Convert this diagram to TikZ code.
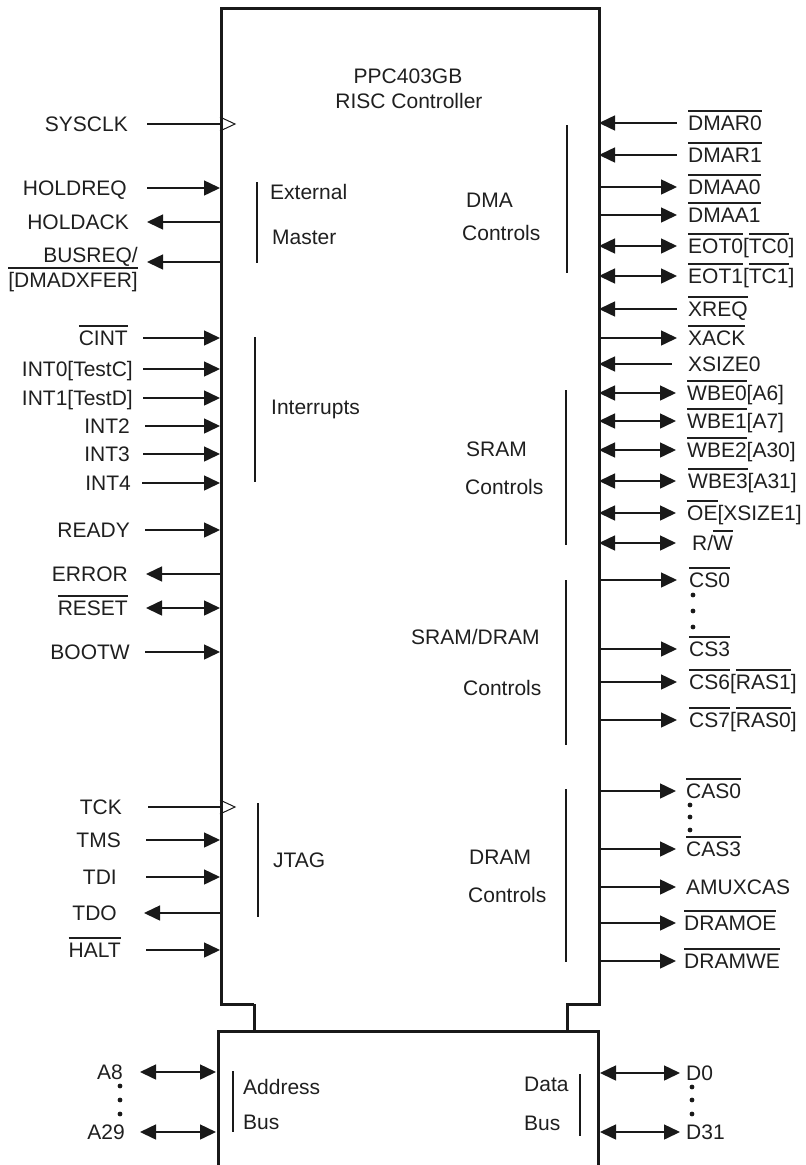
\documentclass[tikz,border=0pt]{standalone}
\usepackage{fontspec}
\setmainfont{Liberation Sans}
\usetikzlibrary{arrows.meta}
\newsavebox\ovlbox
\newcommand\ovl[1]{\sbox\ovlbox{#1}\rlap{\rule[18.5pt]{\wd\ovlbox}{1.7pt}}\usebox\ovlbox}
% left signal: name, y, label right x, wire start x, wire end x, arrow spec, text
\newcommand\Lsig[7]{%
  \node[sig,anchor=base east] (#1) at (#3,#2+7.5) {#7};
  \coordinate (#1a) at (#4,#2);
  \coordinate (#1b) at (#5,#2);
  \draw[wire,#6] (#1a) -- (#1b);}
% right signal: name, y, label left x, wire start x, wire end x, arrow spec, text
\newcommand\Rsig[7]{%
  \node[sig,anchor=base west] (#1) at (#3,#2+7.5) {#7};
  \coordinate (#1a) at (#4,#2);
  \coordinate (#1b) at (#5,#2);
  \draw[wire,#6] (#1a) -- (#1b);}
\begin{document}
\begin{tikzpicture}[x=1pt,y=-1pt,
  >={Triangle[length=16pt,width=15pt]},
  sig/.style={font=\fontsize{21}{25}\selectfont, inner sep=0pt, text=black!88},
  inlbl/.style={sig, anchor=west},
  wire/.style={line width=1.5pt, draw=black!90},
  boxline/.style={line width=3pt, draw=black!90, line join=miter},
  bar/.style={line width=2pt, draw=black!90},
  clk/.style={line width=1pt, draw=black!90},
  dotstyle/.style={fill=black!90}]
\useasboundingbox (0,0) rectangle (806,1165);

% ---- chip outline ----
\coordinate (mTL) at (221,8);
\coordinate (mTR) at (599,8);
\coordinate (mBL) at (221,1004);
\coordinate (mBR) at (599,1004);
\coordinate (nL1) at (254,1004);
\coordinate (nL2) at (254,1031);
\coordinate (nR1) at (567,1004);
\coordinate (nR2) at (567,1031);
\coordinate (bTL) at (218,1031);
\coordinate (bTR) at (598,1031);
\coordinate (bBL) at (218,1180);
\coordinate (bBR) at (598,1180);
\draw[boxline] (nL1) -- (mBL) -- (mTL) -- (mTR) -- (mBR) -- (nR1) -- (nR2);
\draw[boxline] (nL1) -- (nL2);
\draw[boxline] (bBL) -- (bTL) -- (bTR) -- (bBR);

% ---- title ----
\node[sig] (title1) at (408,76) {PPC403GB};
\node[sig] (title2) at (409,101) {RISC Controller};

% ---- left side signals ----
\Lsig{sysclk}{124}{128}{147}{220}{-}{SYSCLK}
\coordinate (ck1a) at (220,117); \coordinate (ck1b) at (235,124); \coordinate (ck1c) at (220,131);
\draw[clk] (ck1a) -- (ck1b) -- (ck1c);
\Lsig{holdreq}{188}{127}{147}{220}{->}{HOLDREQ}
\Lsig{holdack}{222}{129}{147}{220}{<-}{HOLDACK}
\node[sig,anchor=base east] (busreqA) at (138,262) {BUSREQ/};
\node[sig,anchor=base east] (busreqB) at (138,287) {\ovl{[DMADXFER]}};
\coordinate (busreqa) at (147,262); \coordinate (busreqb) at (220,262);
\draw[wire,<-] (busreqa) -- (busreqb);
\Lsig{cint}{338}{128}{143}{220}{->}{\ovl{CINT}}
\Lsig{intz}{369}{133}{143}{220}{->}{INT0[TestC]}
\Lsig{into}{398}{133}{143}{220}{->}{INT1[TestD]}
\Lsig{inttw}{426}{130}{145}{220}{->}{INT2}
\Lsig{intth}{454}{130}{143}{220}{->}{INT3}
\Lsig{intfo}{483}{131}{142}{220}{->}{INT4}
\Lsig{ready}{530}{130}{145}{220}{->}{READY}
\Lsig{error}{574}{128}{146}{220}{<-}{ERROR}
\Lsig{reset}{608}{128}{146}{220}{<->}{\ovl{RESET}}
\Lsig{bootw}{652}{130}{145}{220}{->}{BOOTW}
\Lsig{tck}{807}{122}{148}{220}{-}{TCK}
\coordinate (ck2a) at (220,800); \coordinate (ck2b) at (235,807); \coordinate (ck2c) at (220,814);
\draw[clk] (ck2a) -- (ck2b) -- (ck2c);
\Lsig{tms}{840}{121}{146}{220}{->}{TMS}
\Lsig{tdi}{877}{117}{146}{220}{->}{TDI}
\Lsig{tdo}{913}{117}{144}{220}{<-}{TDO}
\Lsig{halt}{950}{121}{146}{220}{->}{\ovl{HALT}}
\Lsig{aeight}{1072}{123}{140}{216}{<->}{A8}
\Lsig{atwnine}{1132}{125}{140}{216}{<->}{A29}
\fill[dotstyle] (120,1086) circle[radius=2.4pt];
\fill[dotstyle] (120,1100) circle[radius=2.4pt];
\fill[dotstyle] (120,1114) circle[radius=2.4pt];

% ---- right side signals ----
\Rsig{dmarz}{123}{688}{599}{677}{<-}{\ovl{DMAR0}}
\Rsig{dmaro}{155}{688}{599}{677}{<-}{\ovl{DMAR1}}
\Rsig{dmaaz}{187}{688}{599}{677}{->}{\ovl{DMAA0}}
\Rsig{dmaao}{215}{688}{599}{677}{->}{\ovl{DMAA1}}
\Rsig{eotz}{246}{688}{599}{677}{<->}{\ovl{EOT0}[\ovl{TC0}]}
\Rsig{eoto}{276}{688}{599}{677}{<->}{\ovl{EOT1}[\ovl{TC1}]}
\Rsig{xreq}{309}{688}{599}{677}{<-}{\ovl{XREQ}}
\Rsig{xack}{338}{688}{599}{677}{->}{\ovl{XACK}}
\Rsig{xsize}{364}{688}{599}{672}{<-}{XSIZE0}
\Rsig{wbez}{393}{687}{599}{676}{<->}{\ovl{WBE0}[A6]}
\Rsig{wbeo}{421}{687}{599}{676}{<->}{\ovl{WBE1}[A7]}
\Rsig{wbet}{450}{687}{599}{676}{<->}{\ovl{WBE2}[A30]}
\Rsig{wbeth}{481}{688}{599}{676}{<->}{\ovl{WBE3}[A31]}
\Rsig{oe}{513}{687}{599}{676}{<->}{\ovl{OE}[XSIZE1]}
\Rsig{rw}{543}{692}{599}{676}{<->}{R/\ovl{W}}
\Rsig{csz}{580}{689}{599}{677}{->}{\ovl{CS0}}
\fill[dotstyle] (693,595) circle[radius=2.4pt];
\fill[dotstyle] (693,611) circle[radius=2.4pt];
\fill[dotstyle] (693,627) circle[radius=2.4pt];
\Rsig{csth}{649}{689}{599}{677}{->}{\ovl{CS3}}
\Rsig{css}{682}{689}{599}{677}{->}{\ovl{CS6}[\ovl{RAS1}]}
\Rsig{csse}{720}{689}{599}{677}{->}{\ovl{CS7}[\ovl{RAS0}]}
\Rsig{casz}{791}{686}{599}{676}{->}{\ovl{CAS0}}
\fill[dotstyle] (690,805) circle[radius=2.4pt];
\fill[dotstyle] (690,817) circle[radius=2.4pt];
\fill[dotstyle] (690,830) circle[radius=2.4pt];
\Rsig{casth}{849}{686}{599}{676}{->}{\ovl{CAS3}}
\Rsig{amux}{887}{686}{599}{676}{->}{AMUXCAS}
\Rsig{dramoe}{923}{684}{599}{676}{->}{\ovl{DRAMOE}}
\Rsig{dramwe}{961}{684}{599}{676}{->}{\ovl{DRAMWE}}
\Rsig{dz}{1073}{686}{600}{680}{<->}{D0}
\Rsig{dto}{1132}{686}{600}{680}{<->}{D31}
\fill[dotstyle] (692,1087) circle[radius=2.4pt];
\fill[dotstyle] (692,1100) circle[radius=2.4pt];
\fill[dotstyle] (692,1114) circle[radius=2.4pt];

% ---- internal group labels and bars ----
\node[inlbl] (ext) at (270,192) {External};
\node[inlbl] (mst) at (272,237) {Master};
\coordinate (b1a) at (257,182); \coordinate (b1b) at (257,263);
\draw[bar] (b1a) -- (b1b);

\node[inlbl] (irq) at (271,409) {Interrupts};
\coordinate (b2a) at (255,337); \coordinate (b2b) at (255,482);
\draw[bar] (b2a) -- (b2b);

\node[inlbl] (jtag) at (273,860) {JTAG};
\coordinate (b3a) at (258,803); \coordinate (b3b) at (258,917);
\draw[bar] (b3a) -- (b3b);

\node[inlbl] (dma) at (466,200) {DMA};
\node[inlbl] (dmac) at (462,233) {Controls};
\coordinate (b4a) at (567,125); \coordinate (b4b) at (567,273);
\draw[bar] (b4a) -- (b4b);

\node[inlbl] (sram) at (466,449) {SRAM};
\node[inlbl] (sramc) at (465,487) {Controls};
\coordinate (b5a) at (566,390); \coordinate (b5b) at (566,545);
\draw[bar] (b5a) -- (b5b);

\node[inlbl] (sd) at (411,637) {SRAM/DRAM};
\node[inlbl] (sdc) at (463,688) {Controls};
\coordinate (b6a) at (566,580); \coordinate (b6b) at (566,745);
\draw[bar] (b6a) -- (b6b);

\node[inlbl] (dram) at (469,857) {DRAM};
\node[inlbl] (dramc) at (468,895) {Controls};
\coordinate (b7a) at (566,789); \coordinate (b7b) at (566,962);
\draw[bar] (b7a) -- (b7b);

\node[inlbl] (addr) at (243,1087) {Address};
\node[inlbl] (abus) at (243,1122) {Bus};
\coordinate (b8a) at (233,1071); \coordinate (b8b) at (233,1132);
\draw[bar] (b8a) -- (b8b);

\node[inlbl] (data) at (524,1084) {Data};
\node[inlbl] (dbus) at (524,1123) {Bus};
\coordinate (b9a) at (580,1074); \coordinate (b9b) at (580,1136);
\draw[bar] (b9a) -- (b9b);
\end{tikzpicture}
\end{document}
